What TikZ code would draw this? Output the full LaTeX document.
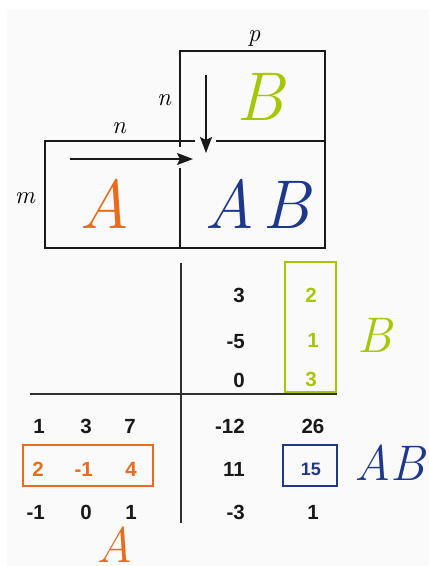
\documentclass[tikz,border=0pt]{standalone}
\usepackage{fontspec}
\newfontfamily\numfont{Liberation Sans}
\usetikzlibrary{arrows.meta}
\definecolor{bgc}{RGB}{250,250,250}
\definecolor{orA}{RGB}{232,108,28}
\definecolor{grB}{RGB}{164,200,0}
\definecolor{blAB}{RGB}{30,56,140}
\definecolor{ink}{RGB}{25,25,25}
\tikzset{
  box/.style={draw=ink, line width=1.6pt},
  axis/.style={draw=ink!90, line width=2pt},
  hl/.style={line width=1.6pt},
  big/.style={inner sep=0pt, font=\itshape\fontsize{69}{69}\selectfont},
  mid/.style={inner sep=0pt, font=\itshape\fontsize{50}{50}\selectfont},
  dimlab/.style={inner sep=0pt, font=\itshape\fontsize{25}{25}\selectfont},
  num/.style={inner sep=0pt, text=ink, font=\numfont\bfseries\fontsize{20.5}{20.5}\selectfont},
  numsm/.style={inner sep=0pt, font=\numfont\bfseries\fontsize{18}{18}\selectfont},
  arr/.style={draw=ink, line width=1.7pt, -{Stealth[length=16pt,width=12pt,inset=3pt]}},
}
\begin{document}
\begin{tikzpicture}[x=1pt,y=-1pt]
\useasboundingbox (0,0) rectangle (429,566);
\fill[white] (0,0) rectangle (429,566);
\fill[bgc] (7,10) rectangle (429,566);
% top diagram boxes
\draw[box] (180,51) rectangle (325,141);
\draw[box] (180,141) rectangle (325,248);
\draw[box] (45,141) rectangle (180,248);
% gaps around arrow heads
\fill[bgc] (195,137) rectangle (216,145);
\fill[bgc] (176,147) rectangle (186,168);
% arrows
\coordinate (h1) at (70,159);
\coordinate (h2) at (193,159);
\coordinate (v1) at (206,75);
\coordinate (v2) at (206,153);
\draw[arr] (h1) -- (h2);
\draw[arr] (v1) -- (v2);
% dimension labels
\node[dimlab, anchor=base] (lp) at (254,41) {p};
\node[dimlab, anchor=base] (lnb) at (164,105) {n};
\node[dimlab, anchor=base] (lna) at (119,133) {n};
\node[dimlab, anchor=base] (lm) at (25,203) {m};
% big letters
\node[big, anchor=base, text=grB] (bigB) at (260,120) {B};
\node[big, anchor=base, text=orA] (bigA) at (105,228) {A};
\node[big, anchor=base, text=blAB] (bigAB) at (257,228) {A\hspace{8pt}B};
% axes
\draw[axis] (181,263) -- (181,523);
\draw[axis] (30,394) -- (337,394);
% B matrix
\draw[hl, draw=grB] (285,262) rectangle (336,392);
\node[num, anchor=base east] (b11) at (245,302) {3};
\node[num, anchor=base east] (b21) at (245,348) {-5};
\node[num, anchor=base east] (b31) at (245,387) {0};
\node[num, anchor=base, text=grB] (b12) at (311,302) {2};
\node[num, anchor=base, text=grB] (b22) at (313,347) {1};
\node[num, anchor=base, text=grB] (b32) at (311,386) {3};
\node[mid, anchor=base, text=grB] (labB) at (375,352) {B};
% A matrix
\draw[hl, draw=orA] (23,445) rectangle (153,486);
\node[num, anchor=base east] (a11) at (45,433) {1};
\node[num, anchor=base east] (a12) at (92,433) {3};
\node[num, anchor=base east] (a13) at (136,433) {7};
\node[num, anchor=base east, text=orA] (a21) at (44,476) {2};
\node[num, anchor=base east, text=orA] (a22) at (93,476) {-1};
\node[num, anchor=base east, text=orA] (a23) at (137,476) {4};
\node[num, anchor=base east] (a31) at (45,519) {-1};
\node[num, anchor=base east] (a32) at (92,519) {0};
\node[num, anchor=base east] (a33) at (137,519) {1};
\node[mid, anchor=base, text=orA] (labA) at (115,562) {A};
% AB matrix
\draw[hl, draw=blAB] (283,445) rectangle (337,486);
\node[num, anchor=base east] (c11) at (245,433) {-12};
\node[num, anchor=base] (c12) at (313,433) {26};
\node[num, anchor=base east] (c21) at (245,476) {11};
\node[numsm, anchor=base, text=blAB] (c22) at (311,475) {15};
\node[num, anchor=base east] (c31) at (245,519) {-3};
\node[num, anchor=base] (c32) at (313,519) {1};
\node[mid, anchor=base west, text=blAB] (labAB) at (354,480) {AB};
\end{tikzpicture}
\end{document}
